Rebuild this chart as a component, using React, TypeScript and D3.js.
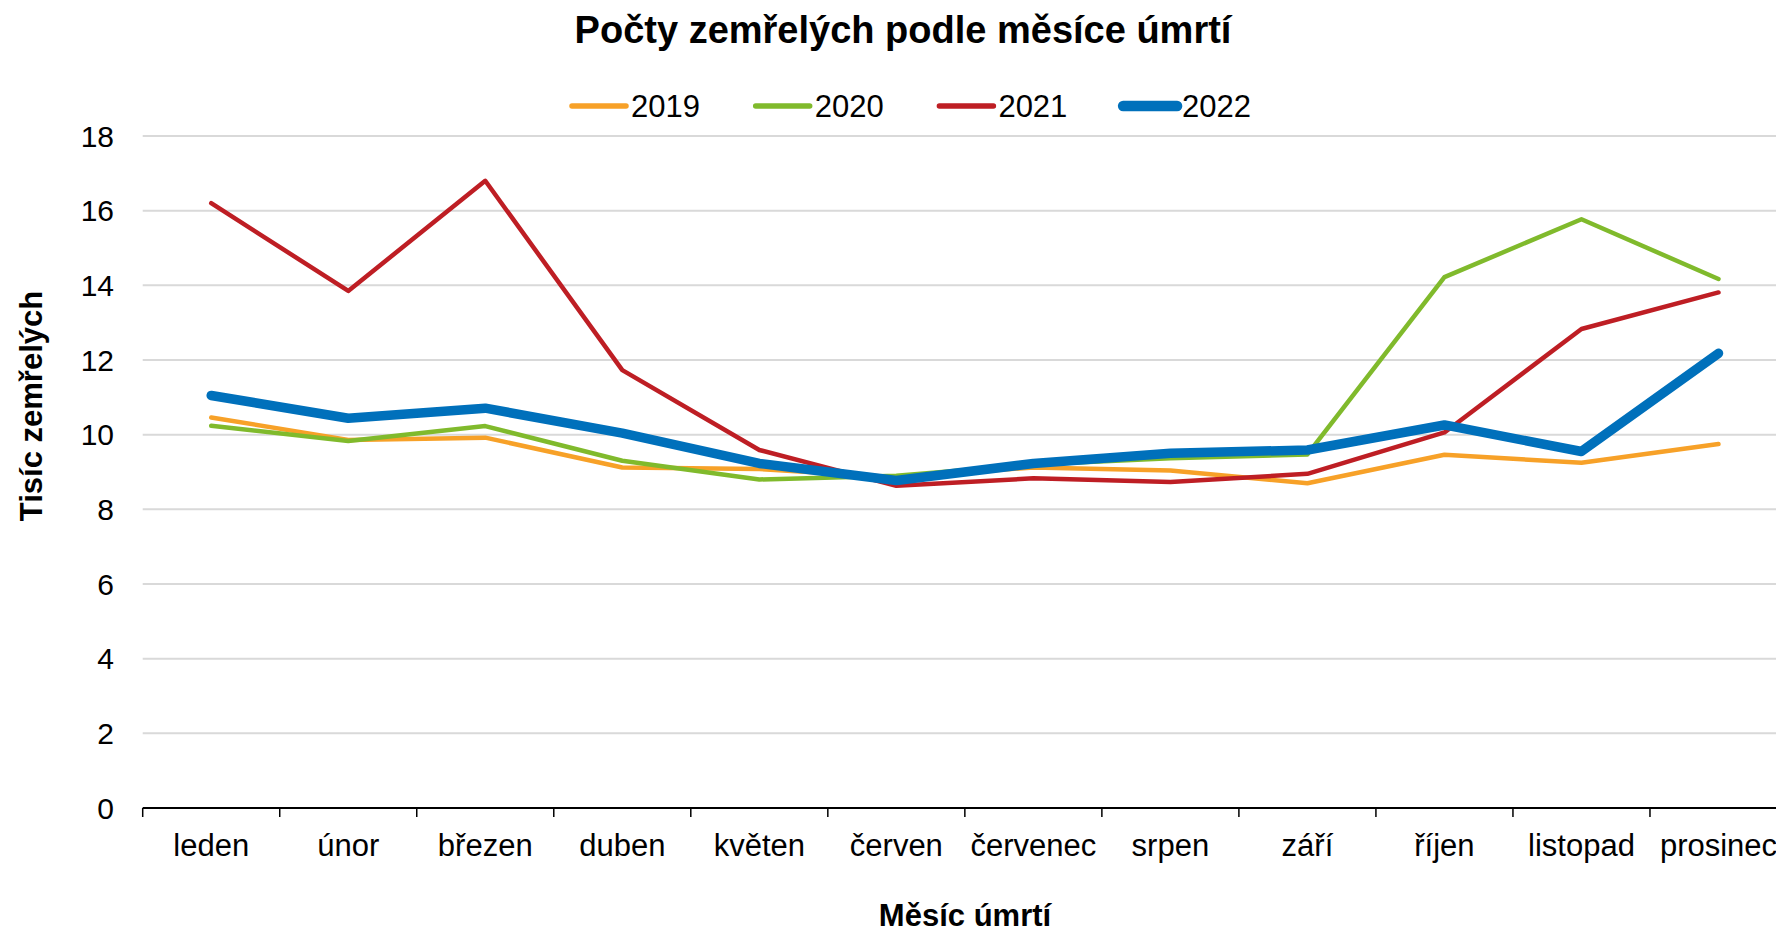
import React from "react";
import * as d3 from "d3";

const months = ["leden", "únor", "březen", "duben", "květen", "červen", "červenec", "srpen", "září", "říjen", "listopad", "prosinec"];
const years = ["2019", "2020", "2021", "2022"];
const v2019 = [10.46, 9.86, 9.92, 9.12, 9.08, 8.86, 9.12, 9.04, 8.7, 9.46, 9.25, 9.75];
const v2020 = [10.24, 9.83, 10.23, 9.3, 8.8, 8.9, 9.2, 9.37, 9.47, 14.22, 15.77, 14.17];
const v2021 = [16.2, 13.85, 16.8, 11.73, 9.59, 8.63, 8.83, 8.73, 8.95, 10.06, 12.83, 13.81];
const v2022 = [11.05, 10.44, 10.71, 10.04, 9.23, 8.77, 9.23, 9.5, 9.59, 10.26, 9.55, 12.18];
const yTicks = [0, 2, 4, 6, 8, 10, 12, 14, 16, 18];

const colors = ["#F7A128", "#80BA2C", "#BE1E24", "#0070BB"];
const widths = [4.5, 4.5, 4.5, 9.5];
const legendWidths = [5.5, 5.5, 5.5, 10.5];

const W = 1776;
const H = 933;
const FONT = "'Liberation Sans', Arial, sans-serif";

export default function App() {
  const series = [v2019, v2020, v2021, v2022];
  const x = d3.scaleBand<string>().domain(months).range([142.7, 1787]).padding(0);
  const y = d3.scaleLinear().domain([0, 18]).range([808, 136]);
  const cx = (m: string) => (x(m) as number) + x.bandwidth() / 2;
  const line = d3
    .line<number>()
    .x((_, i) => cx(months[i]))
    .y((d) => y(d));

  return (
    <svg width={W} height={H} style={{ position: "absolute", left: 0, top: 0, background: "#fff" }} fontFamily={FONT}>
      <rect x={0} y={0} width={W} height={H} fill="#fff" />
      <text x={903} y={43} textAnchor="middle" fontSize={38} fontWeight="bold" fill="#000">
        Počty zemřelých podle měsíce úmrtí
      </text>
      {years.map((yr, i) => {
        const x0 = 572 + i * 183.7;
        return (
          <g key={yr}>
            <line x1={x0} x2={x0 + 54} y1={106} y2={106} stroke={colors[i]} strokeWidth={legendWidths[i]} strokeLinecap="round" />
            <text x={x0 + 59} y={117} fontSize={31} fill="#000">
              {yr}
            </text>
          </g>
        );
      })}
      {yTicks.map((t) => (
        <g key={t}>
          {t > 0 && <line x1={142.7} x2={W} y1={y(t)} y2={y(t)} stroke="#D9D9D9" strokeWidth={2} />}
          <text x={114} y={y(t)} dy="0.36em" textAnchor="end" fontSize={30} fill="#000">
            {t}
          </text>
        </g>
      ))}
      <line x1={142.7} x2={W} y1={808} y2={808} stroke="#000" strokeWidth={2} />
      {months.map((m) => (
        <g key={m}>
          <line x1={x(m) as number} x2={x(m) as number} y1={808} y2={817} stroke="#000" strokeWidth={1.5} />
          <text x={cx(m)} y={856} textAnchor="middle" fontSize={31} fill="#000">
            {m}
          </text>
        </g>
      ))}
      {series.map((s, i) => (
        <path key={years[i]} d={line(s) as string} fill="none" stroke={colors[i]} strokeWidth={widths[i]} strokeLinecap="round" strokeLinejoin="round" />
      ))}
      <text x={965} y={926} textAnchor="middle" fontSize={31} fontWeight="bold" fill="#000">
        Měsíc úmrtí
      </text>
      <text transform="translate(42,406) rotate(-90)" textAnchor="middle" fontSize={31} fontWeight="bold" fill="#000">
        Tisíc zemřelých
      </text>
    </svg>
  );
}
